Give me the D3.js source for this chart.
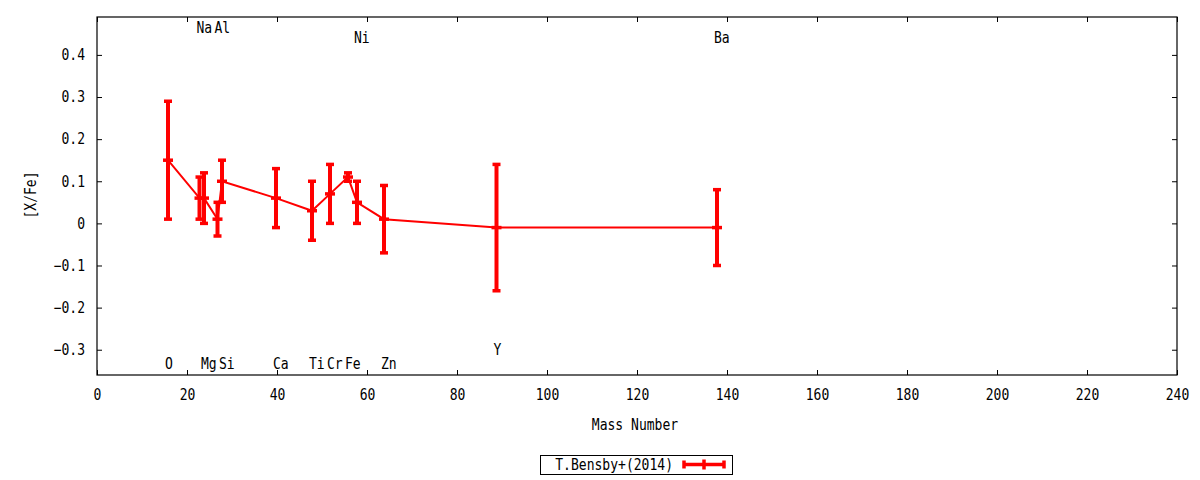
<!DOCTYPE html>
<html>
<head>
<meta charset="utf-8">
<script src="https://cdn.jsdelivr.net/npm/d3@7"></script>
<style>
  body { margin: 0; background: #fff; }
  text {
    font-family: "DejaVu Sans Mono", monospace; font-size: 15px; fill: #000;
    transform-box: fill-box; transform-origin: center; transform: scaleX(0.87);
  }
  text.end { transform-origin: right center; }
  text.start { transform-origin: left center; }
</style>
</head>
<body>
<div id="chart"></div>
<script>
// abundances vs mass number
const elements = ["O", "Na", "Mg", "Al", "Si", "Ca", "Ti", "Cr", "Fe", "Ni", "Zn", "Y", "Ba"];
const massNumber = [16, 23, 24, 27, 28, 40, 48, 52, 56, 58, 64, 89, 138];
const xfe = [0.15, 0.06, 0.06, 0.01, 0.10, 0.06, 0.03, 0.07, 0.11, 0.05, 0.01, -0.01, -0.01];
const xfeErr = [0.14, 0.05, 0.06, 0.04, 0.05, 0.07, 0.07, 0.07, 0.01, 0.05, 0.08, 0.15, 0.09];
// where each element name is written (in [X/Fe] units)
const labelY = [-0.333, 0.465, -0.333, 0.465, -0.333, -0.333, -0.333, -0.333, -0.333, 0.441, -0.333, -0.299, 0.441];
const xTicks = d3.range(0, 241, 20);
const yTicks = [-0.3, -0.2, -0.1, 0, 0.1, 0.2, 0.3, 0.4];
const seriesName = "T.Bensby+(2014)";

var width = 1200,
    height = 480,
    margin = { left: 97, right: 23, top: 17, bottom: 105 };
var red = "#ff0000";

var x = d3.scaleLinear().domain([0, 240]).range([margin.left, width - margin.right]);
var y = d3.scaleLinear().domain([-0.36, 0.49]).range([height - margin.bottom, margin.top]);

var svg = d3.select("#chart").append("svg")
    .attr("width", width)
    .attr("height", height);

var data = elements.map((el, i) => ({
    el: el,
    mass: massNumber[i],
    v: xfe[i],
    err: xfeErr[i],
    ly: labelY[i]
}));

// axes (ticks point inward, mirrored on top and right)
var tickLen = 5;
svg.append("g")
    .attr("transform", "translate(0," + y.range()[0] + ")")
    .call(d3.axisBottom(x).tickValues(xTicks).tickSize(-tickLen).tickPadding(14).tickFormat(d3.format("d")));
svg.append("g")
    .attr("transform", "translate(0," + y.range()[1] + ")")
    .call(d3.axisTop(x).tickValues(xTicks).tickSize(-tickLen).tickFormat(""));
svg.append("g")
    .attr("class", "yaxis")
    .attr("transform", "translate(" + x.range()[0] + ",0)")
    .call(d3.axisLeft(y).tickValues(yTicks).tickSize(-tickLen).tickPadding(12).tickFormat(d => d === 0 ? "0" : d3.format(".1f")(d)));
svg.append("g")
    .attr("transform", "translate(" + x.range()[1] + ",0)")
    .call(d3.axisRight(y).tickValues(yTicks).tickSize(-tickLen).tickFormat(""));

svg.selectAll(".domain").remove();
svg.selectAll(".tick line").attr("stroke", "#000");
svg.selectAll("g").attr("font-family", null).attr("font-size", null);
svg.selectAll(".yaxis .tick text").classed("end", true);

svg.append("rect")
    .attr("x", x.range()[0])
    .attr("y", y.range()[1])
    .attr("width", x.range()[1] - x.range()[0])
    .attr("height", y.range()[0] - y.range()[1])
    .attr("fill", "none")
    .attr("stroke", "#000")
    .attr("stroke-width", 1.2);

// axis titles
svg.append("text")
    .attr("x", (x.range()[0] + x.range()[1]) / 2 - 2)
    .attr("y", 425)
    .attr("dy", "0.35em")
    .attr("text-anchor", "middle")
    .text("Mass Number");
svg.append("g")
    .attr("transform", "translate(31,195) rotate(-90)")
    .append("text")
    .attr("dy", "0.35em")
    .attr("text-anchor", "middle")
    .text("[X/Fe]");

// connecting line
var plot = svg.append("g").attr("transform", "translate(-1,0)");
var line = d3.line().x(d => x(d.mass)).y(d => y(d.v));
plot.append("path")
    .datum(data)
    .attr("d", line)
    .attr("fill", "none")
    .attr("stroke", red)
    .attr("stroke-width", 2);

// error bars
var bars = plot.append("g").selectAll("g")
    .data(data)
    .enter().append("g");
bars.append("line")
    .attr("x1", d => x(d.mass)).attr("x2", d => x(d.mass))
    .attr("y1", d => y(d.v + d.err)).attr("y2", d => y(d.v - d.err))
    .attr("stroke", red).attr("stroke-width", 4);
bars.selectAll(".cap")
    .data(d => [d.v + d.err, d.v - d.err].map(v => ({ mass: d.mass, v: v })))
    .enter().append("line")
    .attr("x1", d => x(d.mass) - 4).attr("x2", d => x(d.mass) + 4)
    .attr("y1", d => y(d.v)).attr("y2", d => y(d.v))
    .attr("stroke", red).attr("stroke-width", 3.5);
bars.append("line")
    .attr("x1", d => x(d.mass) - 5).attr("x2", d => x(d.mass) + 5)
    .attr("y1", d => y(d.v)).attr("y2", d => y(d.v))
    .attr("stroke", red).attr("stroke-width", 3.5);

// element names
plot.append("g").selectAll("text")
    .data(data)
    .enter().append("text")
    .attr("class", "start")
    .attr("x", d => x(d.mass) - 3)
    .attr("y", d => y(d.ly))
    .attr("dy", "0.35em")
    .attr("text-anchor", "start")
    .text(d => d.el);

// legend
var leg = svg.append("g");
leg.append("rect")
    .attr("x", 540.5).attr("y", 455.5)
    .attr("width", 192).attr("height", 19)
    .attr("fill", "none").attr("stroke", "#000");
leg.append("text")
    .attr("class", "end")
    .attr("x", 673).attr("y", 465)
    .attr("dy", "0.35em")
    .attr("text-anchor", "end")
    .text(seriesName);
leg.append("line")
    .attr("x1", 684).attr("x2", 724).attr("y1", 464.5).attr("y2", 464.5)
    .attr("stroke", red).attr("stroke-width", 3.5);
[684, 724].forEach(px => {
    leg.append("line")
        .attr("x1", px).attr("x2", px).attr("y1", 460.5).attr("y2", 468.5)
        .attr("stroke", red).attr("stroke-width", 3.5);
});
leg.append("line")
    .attr("x1", 704).attr("x2", 704).attr("y1", 459.5).attr("y2", 469.5)
    .attr("stroke", red).attr("stroke-width", 3.5);
</script>
</body>
</html>
